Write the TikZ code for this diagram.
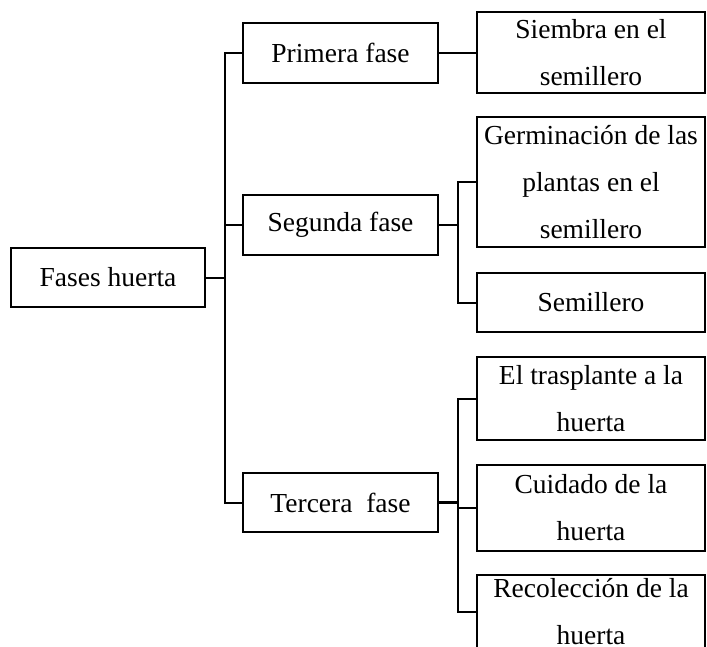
\documentclass[tikz,border=0pt]{standalone}
\usepackage{fontspec}
\setmainfont{Liberation Serif}
\usepackage{tikz}
\tikzstyle{topic} = [rectangle, minimum width=194pt, minimum height=59pt, inner sep=0pt, text centered, draw=black, line width=2pt]
\tikzstyle{phase} = [rectangle, minimum width=195pt, minimum height=60pt, inner sep=0pt, text centered, draw=black, line width=2pt]
\tikzstyle{activity} = [rectangle, minimum width=228pt, inner sep=0pt, align=center, draw=black, line width=2pt]
\tikzstyle{connector} = [line width=2pt]

\begin{document}
\begin{tikzpicture}[x=1pt, y=-1pt, font=\fontsize{27.5pt}{47pt}\selectfont]
    \useasboundingbox (0,0) rectangle (707,647);
    \node (huerta) [topic] at (108,277.5) {Fases huerta};
    \node (first) [phase] at (340.5,53) {Primera fase};
    \node (second) [phase] at (340.5,225) {Segunda fase};
    \node (third) [phase, minimum height=59pt] at (340.5,502.5) {Tercera\ \ fase};
    \node (sowing) [activity, minimum height=81pt] at (591,53) {Siembra en el\\semillero};
    \node (germination) [activity, minimum height=130pt] at (591,182) {Germinación de las\\plantas en el\\semillero};
    \node (seedbed) [activity, minimum height=59pt] at (591,302.5) {Semillero};
    \node (transplant) [activity, minimum height=83pt] at (591,398.5) {El trasplante a la\\huerta};
    \node (care) [activity, minimum height=86pt] at (591,508) {Cuidado de la\\huerta};
    \node (harvest) [activity, minimum height=74pt] at (591,612) {Recolección de la\\huerta};

    \draw [connector] (huerta.east) -- ++(19,0) |- (first.west);
    \draw [connector] (huerta.east) -- ++(19,0) |- (second.west);
    \draw [connector] (huerta.east) -- ++(19,0) |- (third.west);
    \draw [connector] (first) -- (sowing);
    \draw [connector] (second.east) -- ++(19,0) |- (germination.west);
    \draw [connector] (second.east) -- ++(19,0) |- (seedbed.west);
    \draw [connector, line width=3pt] (third.east) -- ++(19,0);
    \draw [connector] (third.east) -- ++(19,0) |- (transplant.west);
    \draw [connector] (third.east) -- ++(19,0) |- (care.west);
    \draw [connector] (third.east) -- ++(19,0) |- (harvest.west);
\end{tikzpicture}
\end{document}
